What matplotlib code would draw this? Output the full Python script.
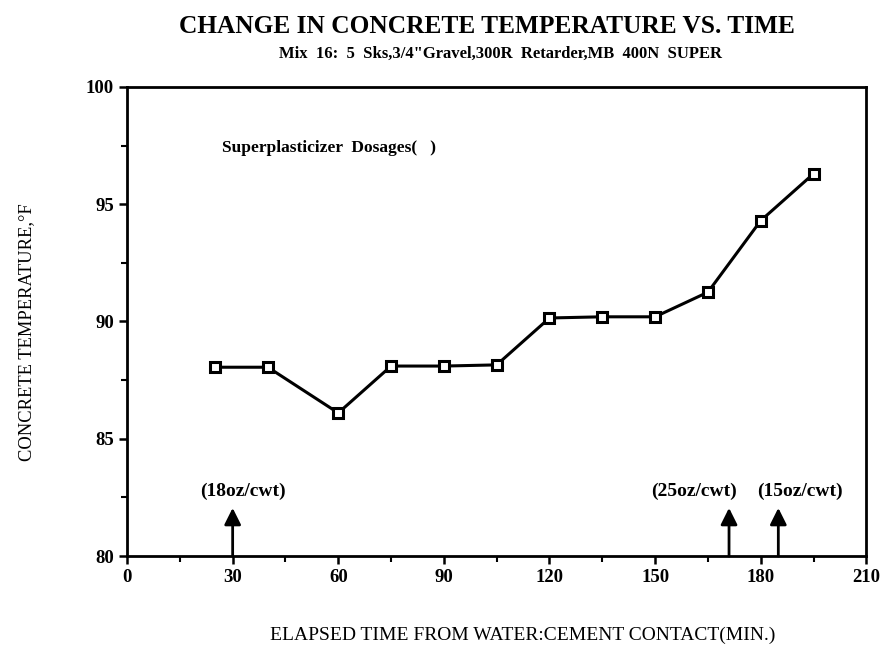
import matplotlib
matplotlib.use("Agg")
import matplotlib.pyplot as plt
from matplotlib.ticker import MultipleLocator

plt.rcParams['font.family'] = ['Liberation Serif', 'DejaVu Serif']

time_min = [25, 40, 60, 75, 90, 105, 120, 135, 150, 165, 180, 195]
temp_f = [88.05, 88.05, 86.1, 88.1, 88.1, 88.15, 90.15, 90.2, 90.2, 91.25, 94.3, 96.3]

dose_times = [30, 171, 185]
dose_labels = ["(18oz/cwt)", "(25oz/cwt)", "(15oz/cwt)"]
dose_label_x = [33, 161, 191]

fig = plt.figure(figsize=(8.89, 6.51), dpi=100)
ax = fig.add_axes([0.1429, 0.1459, 0.8316, 0.7205])

ax.plot(time_min, temp_f, color='black', linewidth=2.2, marker='s', markersize=7,
        markerfacecolor='white', markeredgecolor='black', markeredgewidth=2.2, zorder=3)

for t, lab, lx in zip(dose_times, dose_labels, dose_label_x):
    ax.annotate('', xy=(t, 82.05), xytext=(t, 80.0),
                arrowprops=dict(arrowstyle='-|>,head_length=0.5,head_width=0.25',
                                color='black', lw=2.0,
                                mutation_scale=20, shrinkA=0, shrinkB=0))
    ax.text(lx, 82.75, lab, ha='center', va='center', fontsize=14, fontweight='bold')

ax.text(27, 97.4, "Superplasticizer  Dosages(   )", ha='left', va='center',
        fontsize=12.5, fontweight='bold')

ax.set_xlim(0, 210)
ax.set_ylim(80, 100)
ax.xaxis.set_major_locator(MultipleLocator(30))
ax.xaxis.set_minor_locator(MultipleLocator(15))
ax.yaxis.set_major_locator(MultipleLocator(5))
ax.yaxis.set_minor_locator(MultipleLocator(2.5))
ax.tick_params(axis='both', which='major', direction='out', length=6, width=1.8,
               labelsize=13.5)
ax.tick_params(axis='both', which='minor', direction='out', length=4, width=1.5)
for lab in ax.get_xticklabels() + ax.get_yticklabels():
    lab.set_fontweight('bold')
for s in ax.spines.values():
    s.set_linewidth(2.0)

fig.text(0.548, 0.959, "CHANGE IN CONCRETE TEMPERATURE VS. TIME", ha='center', va='center',
         fontsize=18.3, fontweight='bold')
fig.text(0.563, 0.918, 'Mix  16:  5  Sks,3/4"Gravel,300R  Retarder,MB  400N  SUPER',
         ha='center', va='center', fontsize=12, fontweight='bold')
fig.text(0.588, 0.024, "ELAPSED TIME FROM WATER:CEMENT CONTACT(MIN.)", ha='center',
         va='center', fontsize=14)
fig.text(0.030, 0.49, "CONCRETE TEMPERATURE,\u00b0F", ha='center', va='center',
         rotation=90, fontsize=13.3)

fig.savefig("out.png", dpi=100)
